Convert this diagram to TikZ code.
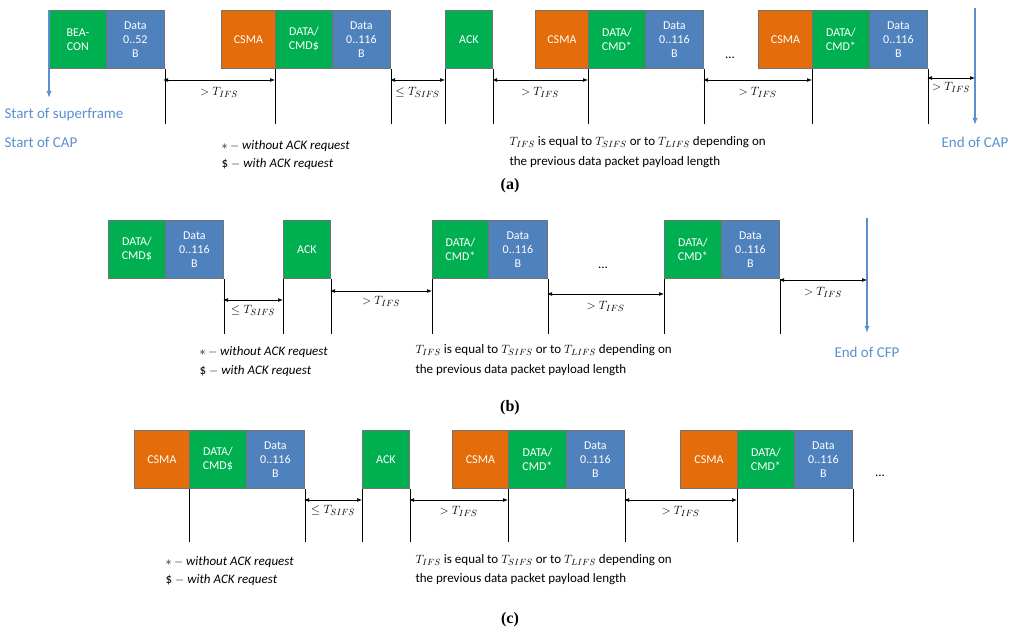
\documentclass[tikz,border=0pt]{standalone}
\usepackage{fontspec}
\setmainfont{Carlito}
\usetikzlibrary{arrows.meta}
\definecolor{og}{HTML}{E46C0A}
\definecolor{gr}{HTML}{00B050}
\definecolor{bl}{HTML}{4F81BD}
\definecolor{lb}{HTML}{5B8FD0}
\begin{document}
\begin{tikzpicture}[x=1pt,y=-1pt,
 box/.style={draw=black!55,line width=0.8pt,minimum height=58pt,anchor=north west,inner sep=0pt,text=white,font=\fontsize{12}{14}\selectfont,align=center},
 O/.style={box,fill=og,minimum width=54pt},
 G/.style={box,fill=gr,minimum width=57pt},
 B/.style={box,fill=bl,minimum width=58pt},
 K/.style={box,fill=gr,minimum width=47pt},
 vl/.style={line width=0.6pt},
 dim/.style={{Latex[length=5pt]}-{Latex[length=5pt]},line width=0.6pt},
 bla/.style={lb,line width=1.4pt,-{Latex[length=7pt]}},
 bt/.style={lb,font=\fontsize{15}{17}\selectfont},
 nt/.style={font=\fontsize{13}{15}\selectfont,anchor=west,align=left},
 lab/.style={font=\fontsize{13}{15}\selectfont},
 figcap/.style={font=\fontspec{Liberation Serif}\bfseries\fontsize{16}{18}\selectfont}]
\useasboundingbox (0,0) rectangle (1024,636);
% ---------- (a)
\node[G,minimum width=57pt] (a1) at (49,10) {BEA-\\CON};
\node[B] (a2) at (106,10) {Data\\0..52\\B};
\node[O] (a3) at (221,10) {CSMA};
\node[G,minimum width=57pt] (a4) at (275,10) {DATA/\\CMD\$};
\node[B] (a5) at (332,10) {Data\\0..116\\B};
\node[K] (a6) at (445,10) {ACK};
\node[O,minimum width=53pt] (a7) at (535,10) {CSMA};
\node[G] (a8) at (588,10) {DATA/\\CMD*};
\node[B] (a9) at (645,10) {Data\\0..116\\B};
\node[lab] (ad) at (730,58) {...};
\node[O] (a10) at (758,10) {CSMA};
\node[G] (a11) at (812,10) {DATA/\\CMD*};
\node[B] (a12) at (869,10) {Data\\0..116\\B};
\foreach \n/\a in {a2/south east,a4/south west,a5/south east,a6/south west,a6/south east,a8/south west,a9/south east,a11/south west,a12/south east}
  \draw[vl] (\n.\a) -- ++(0,55);
\coordinate (aS) at (975,8); \coordinate (aE) at (975,125);
\draw[bla] (aS) -- (aE);
\coordinate (bS) at (49,10); \coordinate (bE) at (49,98);
\draw[bla] (bS) -- (bE);
\node[bt,anchor=west] (sos) at (1,115) {Start of superframe};
\node[bt,anchor=west] (soc) at (1,142) {Start of CAP};
\node[bt] (eoc) at (975,142) {End of CAP};
\draw[dim] (163,80) -- node[lab,below=4pt]{$>T_{IFS}$} (275,80);
\draw[dim] (390,80) -- node[lab,below=4pt]{$\le T_{SIFS}$} (445,80);
\draw[dim] (492,80) -- node[lab,below=4pt]{$>T_{IFS}$} (588,80);
\draw[dim] (703,80) -- node[lab,below=4pt]{$>T_{IFS}$} (812,80);
\draw[dim] (927,78) -- node[lab,below=1pt]{$>T_{IFS}$} (975,78);
\node[nt] (an1) at (218,146) {$*-\mathit{without\ ACK\ request}$};
\node[nt] (an2) at (218,164) {\$ $-$ $\mathit{with\ ACK\ request}$};
\node[nt] (an3) at (506,142) {$T_{IFS}$ is equal to $T_{SIFS}$ or to $T_{LIFS}$ depending on};
\node[nt] (an4) at (506,162) {the previous data packet payload length};
\node[figcap] (ca) at (510,186) {(a)};
% ---------- (b)
\node[G] (b1) at (108,220) {DATA/\\CMD\$};
\node[B] (b2) at (165,220) {Data\\0..116\\B};
\node[K] (b3) at (283,220) {ACK};
\node[G,minimum width=56pt] (b4) at (432,220) {DATA/\\CMD*};
\node[B,minimum width=59pt] (b5) at (488,220) {Data\\0..116\\B};
\node[lab] (bd) at (603,268) {...};
\node[G] (b6) at (664,220) {DATA/\\CMD*};
\node[B] (b7) at (721,220) {Data\\0..116\\B};
\foreach \n/\a in {b2/south east,b3/south west,b3/south east,b4/south west,b5/south east,b6/south west,b7/south east}
  \draw[vl] (\n.\a) -- ++(0,55);
\coordinate (cS) at (867,218); \coordinate (cE) at (867,333);
\draw[bla] (cS) -- (cE);
\node[bt] (eof) at (867,352) {End of CFP};
\draw[dim] (223,300) -- node[lab,below=2pt]{$\le T_{SIFS}$} (283,300);
\draw[dim] (330,291) -- node[lab,below=2pt]{$>T_{IFS}$} (432,291);
\draw[dim] (547,294) -- node[lab,below=4pt]{$>T_{IFS}$} (664,294);
\draw[dim] (779,280) -- node[lab,below=4pt]{$>T_{IFS}$} (867,280);
\node[nt] (bn1) at (196,352) {$*-\mathit{without\ ACK\ request}$};
\node[nt] (bn2) at (196,371) {\$ $-$ $\mathit{with\ ACK\ request}$};
\node[nt] (bn3) at (412,350) {$T_{IFS}$ is equal to $T_{SIFS}$ or to $T_{LIFS}$ depending on};
\node[nt] (bn4) at (412,370) {the previous data packet payload length};
\node[figcap] (cb) at (510,408) {(b)};
% ---------- (c)
\node[O,minimum width=55pt] (c1) at (134,430) {CSMA};
\node[G] (c2) at (189,430) {DATA/\\CMD\$};
\node[B] (c3) at (246,430) {Data\\0..116\\B};
\node[K] (c4) at (362,430) {ACK};
\node[O,minimum width=56pt] (c5) at (452,430) {CSMA};
\node[G,minimum width=58pt] (c6) at (508,430) {DATA/\\CMD*};
\node[B] (c7) at (566,430) {Data\\0..116\\B};
\node[O,minimum width=57pt] (c8) at (680,430) {CSMA};
\node[G] (c9) at (737,430) {DATA/\\CMD*};
\node[B] (c10) at (794,430) {Data\\0..116\\B};
\node[lab] (cd) at (880,476) {...};
\foreach \n/\a in {c2/south west,c3/south east,c4/south west,c4/south east,c6/south west,c7/south east,c9/south west,c10/south east}
  \draw[vl] (\n.\a) -- ++(0,53);
\draw[dim] (304,500) -- node[lab,below=2pt]{$\le T_{SIFS}$} (362,500);
\draw[dim] (409,500) -- node[lab,below=3pt]{$>T_{IFS}$} (508,500);
\draw[dim] (624,500) -- node[lab,below=3pt]{$>T_{IFS}$} (737,500);
\node[nt] (cn1) at (162,562) {$*-\mathit{without\ ACK\ request}$};
\node[nt] (cn2) at (162,580) {\$ $-$ $\mathit{with\ ACK\ request}$};
\node[nt] (cn3) at (412,560) {$T_{IFS}$ is equal to $T_{SIFS}$ or to $T_{LIFS}$ depending on};
\node[nt] (cn4) at (412,579) {the previous data packet payload length};
\node[figcap] (cc) at (510,620) {(c)};
\end{tikzpicture}
\end{document}
